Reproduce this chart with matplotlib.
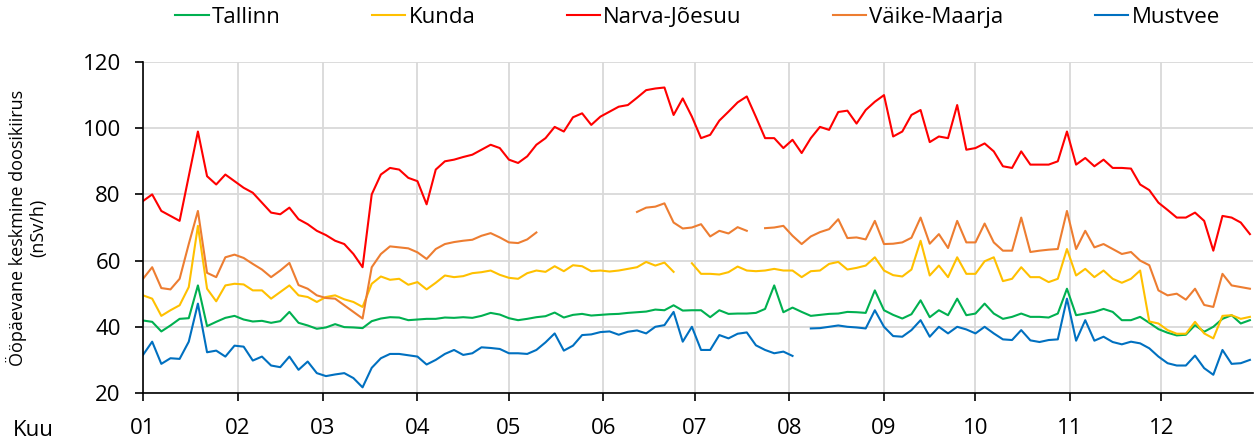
import numpy as np
import matplotlib
matplotlib.use("Agg")
import matplotlib.pyplot as plt

plt.rcParams["font.family"] = ["Open Sans", "DejaVu Sans"]

nan = float("nan")

# päeva number aasta algusest, iga kolmas päev
days = np.arange(0, 364, 3)

month_starts = [0, 31, 59, 90, 120, 151, 181, 212, 243, 273, 304, 334]
month_labels = ["01", "02", "03", "04", "05", "06", "07", "08", "09", "10", "11", "12"]

narva = [
    78, 80, 75, 73.5, 72, 85.5, 99, 85.5, 83, 86,
    84, 82, 80.5, 77.5, 74.5, 74, 76, 72.5, 71, 69,
    67.7, 66, 65, 62, 58, 80, 86, 88, 87.5, 85,
    84, 77, 87.5, 90, 90.5, 91.3, 92, 93.5, 95, 94,
    90.5, 89.5, 91.5, 95, 97, 100.4, 99, 103.3, 104.5, 101,
    103.5, 105, 106.5, 107, 109.2, 111.5, 112, 112.3, 104, 109,
    103.5, 97, 98, 102.3, 105, 107.8, 109.6, 103.4, 97, 97,
    94, 96.5, 92.5, 97, 100.4, 99.5, 104.9, 105.3, 101.4, 105.5,
    108, 110, 97.5, 99, 104, 105.5, 95.8, 97.5, 97, 107,
    93.5, 94, 95.4, 93, 88.5, 88, 93, 89, 89, 89,
    90, 99, 89, 91, 88.5, 90.5, 88, 88, 87.8, 83,
    81.3, 77.5, 75.3, 73, 73, 74.5, 72, 63, 73.5, 73,
    71.5, 68,
]

vaike_maarja = [
    54.5, 58, 51.7, 51.3, 54.5, 65, 75, 56.3, 55, 61,
    61.8, 60.8, 59, 57.3, 55, 57, 59.3, 52.6, 51.5, 49.5,
    48.7, 48.5, 46.5, 44.5, 42.5, 58, 62, 64.3, 64, 63.7,
    62.5, 60.5, 63.5, 65, 65.6, 66, 66.3, 67.5, 68.3, 67,
    65.5, 65.3, 66.4, 68.5, nan, nan, nan, nan, nan, nan,
    nan, nan, nan, nan, 74.7, 76, 76.3, 77.3, 71.5, 69.7,
    70, 71, 67.3, 69, 68.2, 70.1, 69, nan, 69.8, 70,
    70.5, 67.5, 65, 67.3, 68.6, 69.5, 72.5, 66.8, 67, 66.4,
    72, 65, 65.1, 65.5, 66.9, 73, 65.1, 68, 63.8, 72,
    65.5, 65.5, 71.2, 65.5, 63, 63, 73, 62.6, 63, 63.3,
    63.5, 75, 63.5, 69, 64, 65, 63.5, 62, 62.6, 60,
    58.6, 51, 49.5, 50, 48.2, 51.5, 46.6, 46, 56, 52.5,
    52, 51.5,
]

kunda = [
    49.5, 48.5, 43.3, 45, 46.5, 52, 70.5, 51.5, 47.7, 52.5,
    53, 52.8, 51, 51, 48.5, 50.5, 52.5, 49.5, 49, 47.5,
    49, 49.5, 48.3, 47.5, 46, 53, 55.2, 54.2, 54.5, 52.7,
    53.5, 51.3, 53.3, 55.5, 55, 55.3, 56.2, 56.5, 57, 55.7,
    54.8, 54.5, 56.2, 57, 56.6, 58.3, 56.8, 58.6, 58.3, 56.8,
    57, 56.7, 57, 57.5, 58, 59.6, 58.5, 59.4, 56.6, nan,
    59.2, 56, 56, 55.8, 56.5, 58.2, 57, 56.8, 57, 57.5,
    57, 57, 55, 56.8, 57, 59, 59.6, 57.3, 57.8, 58.5,
    61, 57, 55.6, 55.2, 57.3, 66, 55.5, 58.5, 55, 61,
    56, 56, 59.8, 61, 53.8, 54.5, 58, 55, 55, 53.5,
    54.5, 63.5, 55.5, 57.5, 55, 57, 54.5, 53.3, 54.5, 57,
    41.6, 41, 39, 37.9, 37.9, 41.5, 38, 36.5, 43.3, 43.5,
    42.4, 43,
]

tallinn = [
    41.9, 41.5, 38.6, 40.4, 42.4, 42.6, 52.5, 40.2, 41.5, 42.7,
    43.3, 42.2, 41.6, 41.8, 41.2, 41.7, 44.5, 41.2, 40.4, 39.4,
    39.8, 40.8, 39.9, 39.8, 39.6, 41.7, 42.5, 42.9, 42.8, 42,
    42.2, 42.4, 42.4, 42.8, 42.7, 42.9, 42.7, 43.3, 44.2, 43.7,
    42.6, 42, 42.4, 42.9, 43.2, 44.3, 42.8, 43.6, 43.9, 43.4,
    43.6, 43.8, 43.9, 44.2, 44.4, 44.6, 45.2, 45, 46.5, 44.9,
    45, 45, 42.9, 45, 43.9, 44, 44, 44.2, 45.4, 52.5,
    44.4, 45.8, 44.5, 43.3, 43.6, 43.9, 44, 44.5, 44.4, 44.2,
    51, 45, 43.6, 42.5, 43.8, 48, 42.9, 45, 43.5, 48.5,
    43.5, 44, 47, 44, 42.4, 43, 44, 43, 43, 42.8,
    44, 51.5, 43.5, 44, 44.5, 45.4, 44.5, 42, 42, 43,
    41.2, 39.3, 38.2, 37.4, 37.6, 40.5, 38.5, 40, 42.4, 43.5,
    41, 42,
]

mustvee = [
    31.5, 35.5, 28.8, 30.5, 30.3, 35.5, 47, 32.3, 32.8, 31,
    34.3, 34, 29.8, 31, 28.3, 27.8, 31, 27, 29.5, 26,
    25.1, 25.6, 26, 24.5, 21.7, 27.6, 30.5, 31.8, 31.8, 31.4,
    31, 28.6, 30, 31.8, 33, 31.5, 32, 33.8, 33.6, 33.3,
    32, 32, 31.8, 33, 35.3, 38, 32.8, 34.3, 37.5, 37.7,
    38.4, 38.6, 37.6, 38.5, 38.9, 38, 40, 40.5, 44.5, 35.5,
    40, 33, 33, 37.5, 36.5, 37.9, 38.3, 34.4, 33, 32,
    32.5, 31.2, nan, 39.5, 39.6, 40, 40.4, 40, 39.8, 39.5,
    45, 40, 37.2, 37, 39, 42, 37, 40, 38, 40,
    39.2, 38, 40, 38, 36.2, 36, 39, 35.9, 35.4, 36,
    36.2, 48.5, 35.8, 42, 35.8, 37, 35.4, 34.7, 35.5, 35,
    33.5, 31, 29, 28.3, 28.3, 31.3, 27.5, 25.5, 33, 28.8,
    29, 30,
]

series = [
    ("Tallinn", tallinn, "#00B050"),
    ("Kunda", kunda, "#FFC000"),
    ("Narva-Jõesuu", narva, "#FF0000"),
    ("Väike-Maarja", vaike_maarja, "#ED7D31"),
    ("Mustvee", mustvee, "#0070C0"),
]

fig = plt.figure(figsize=(12.59, 4.43), dpi=100)
ax = fig.add_axes([0.1136, 0.1129, 0.8816, 0.7471])

for name, values, color in series:
    ax.plot(days, values, color=color, linewidth=1.5, label=name)

ax.set_xlim(0, 364)
ax.set_ylim(20, 120)
ax.set_yticks(range(20, 121, 20))
ax.set_xticks(month_starts)
ax.set_xticklabels(month_labels)
ax.grid(True, color="#D9D9D9", linewidth=1.3)
ax.set_axisbelow(True)
for side in ["top", "right"]:
    ax.spines[side].set_visible(False)
for side in ["left", "bottom"]:
    ax.spines[side].set_linewidth(1.2)
ax.tick_params(axis="both", direction="out", length=6, width=1.2,
               labelsize=16, colors="black")
ax.tick_params(axis="x", pad=12)
ax.tick_params(axis="y", pad=10)

ax.set_ylabel("Ööpäevane keskmine doosikiirus\n(nSv/h)", fontsize=13,
              linespacing=1.2)
ax.yaxis.set_label_coords(-0.086, 0.5)
fig.text(0.010, 0.015, "Kuu", fontsize=16)

fig.legend(loc="upper center", bbox_to_anchor=(0.554, 1.02), ncol=5,
           frameon=False, fontsize=16, handlelength=1.5, handletextpad=0.15,
           columnspacing=4.1, borderaxespad=0.3)

fig.savefig("out.png", dpi=100)
